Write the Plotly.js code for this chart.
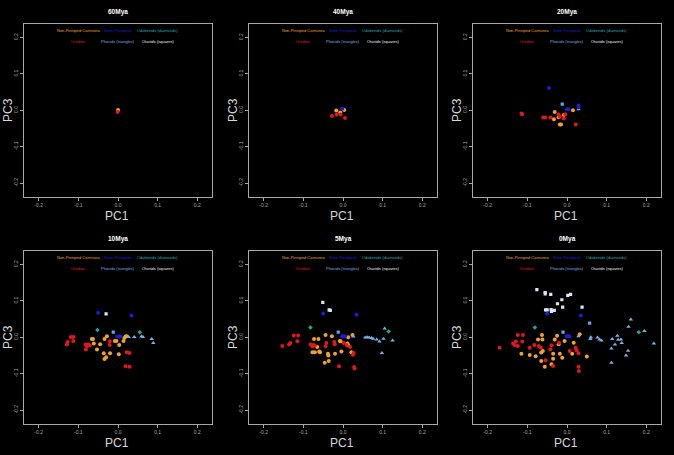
<!DOCTYPE html>
<html><head><meta charset="utf-8">
<script src="https://cdn.plot.ly/plotly-3.0.1.min.js"></script>
<style>html,body{margin:0;padding:0;background:#000;}#c{width:674px;height:455px;}</style>
</head><body><div id="c"></div>
<script>
// ---- Data (PC1, PC3) ----
const ages = ['60Mya','40Mya','20Mya','10Mya','5Mya','0Mya'];
const legendLabels = ['Non-Pinniped Carnivora','Stem Pinnipeds','Odobenids (diamonds)','Ursidae','Phocids (triangles)','Otariids (squares)'];
const tickVals = [-0.2,-0.1,0,0.1,0.2];
const tickText = ['-0.2','-0.1','0.0','0.1','0.2'];

// 60Mya
const npcX_60 = [0.000], npcY_60 = [0.001];
const ursX_60 = [-0.001], ursY_60 = [-0.005];

// 40Mya
const npcX_40 = [-0.017,-0.007,0.003], npcY_40 = [-0.001,-0.006,0.001];
const ursX_40 = [-0.028,-0.016,-0.006,0.005], ursY_40 = [-0.016,-0.012,-0.012,-0.021];
const stemX_40 = [-0.002], stemY_40 = [0.004];

// 20Mya
const npcX_20 = [0.015,-0.031,-0.033,-0.021,-0.018,-0.015,-0.008];
const npcY_20 = [0.000,-0.005,-0.025,-0.019,-0.039,-0.039,-0.013];
const ursX_20 = [-0.115,-0.113,-0.060,-0.055,-0.042,-0.021,-0.018,-0.004,-0.008,0.022];
const ursY_20 = [-0.009,-0.011,-0.020,-0.020,-0.020,-0.012,-0.018,-0.011,-0.023,-0.039];
const stemX_20 = [-0.045,0.000,0.004,0.029,0.029], stemY_20 = [0.061,0.003,0.003,0.013,0.008];
const lbX_20 = [-0.012], lbY_20 = [0.017];
const phocX_20 = [0.029], phocY_20 = [0.003];

// 10Mya
const npcX_10 = [0.019,0.022,0.016,0.014,-0.028,-0.034,-0.045,-0.053,-0.063,-0.066,-0.061,-0.008,-0.004,0.003,0.002,-0.036,-0.020,-0.030,-0.034];
const npcY_10 = [0.002,0.003,-0.002,-0.010,0.003,-0.005,-0.019,-0.034,-0.005,-0.005,-0.017,-0.010,-0.010,-0.021,-0.047,-0.044,-0.044,-0.055,-0.060];
const ursX_10 = [-0.119,-0.112,-0.113,-0.127,-0.129,-0.082,-0.075,-0.078,-0.071,-0.081,-0.021,-0.021,0.022,0.029,0.019,0.029];
const ursY_10 = [0.001,0.001,-0.010,-0.013,-0.020,-0.020,-0.020,-0.025,-0.022,-0.034,-0.011,-0.021,-0.041,-0.043,-0.080,-0.081];
const stemX_10 = [-0.050,0.034,-0.002,0.003,0.006], stemY_10 = [0.067,0.060,0.002,0.002,0.002];
const odoX_10 = [-0.052,0.055], odoY_10 = [0.020,0.014];
const lbX_10 = [-0.012], lbY_10 = [0.014];
const phocX_10 = [0.027,0.041,0.059,0.063,0.085,0.089], phocY_10 = [0.001,0.001,0.002,0.001,-0.005,-0.016];
const otaX_10 = [-0.030], otaY_10 = [0.064];

// 5Mya
const npcX_5 = [-0.044,-0.028,0.024,0.013,-0.073,-0.062,-0.008,-0.006,0.011,0.013,-0.004,-0.020,-0.038,-0.037,-0.036,-0.046,-0.065,-0.060,-0.077,-0.071,-0.058,0.021];
const npcY_5 = [0.006,0.003,0.006,0.000,-0.005,-0.005,-0.010,-0.011,-0.017,-0.022,-0.039,-0.045,-0.045,-0.050,-0.065,-0.070,-0.027,-0.039,-0.041,-0.041,-0.041,-0.041];
const ursX_5 = [-0.124,-0.113,-0.115,-0.133,-0.136,-0.153,-0.082,-0.075,-0.071,-0.077,-0.042,-0.044,-0.021,-0.022,0.002,0.009,0.018,0.027,0.025,-0.010,0.028,0.029];
const ursY_5 = [0.005,0.005,-0.011,-0.016,-0.020,-0.024,-0.020,-0.021,-0.023,-0.025,-0.016,-0.025,-0.019,-0.013,-0.016,-0.021,-0.027,-0.043,-0.048,-0.080,-0.082,-0.086];
const stemX_5 = [-0.050,0.034,-0.002,0.002,0.005], stemY_5 = [0.065,0.062,0.003,0.003,0.002];
const odoX_5 = [-0.082,0.115], odoY_5 = [0.027,0.016];
const lbX_5 = [-0.012], lbY_5 = [0.014];
const phocX_5 = [0.026,0.056,0.061,0.066,0.072,0.076,0.085,0.092,0.102,0.105,0.125,0.098];
const phocY_5 = [0.002,-0.001,0.000,-0.001,-0.002,-0.004,-0.006,-0.012,-0.004,0.024,-0.009,-0.043];
const otaX_5 = [-0.051,-0.035,-0.032], otaY_5 = [0.096,0.075,0.074];

// 0Mya
const npcX_0 = [-0.063,-0.073,-0.062,-0.031,-0.025,-0.006,0.017,0.032,-0.061,-0.065,-0.079,-0.094,-0.115,-0.035,-0.018,-0.012,-0.035,-0.065,-0.056,-0.039,0.050,0.013,-0.021];
const npcY_0 = [0.006,-0.006,-0.006,-0.006,0.004,-0.010,-0.015,0.008,-0.038,-0.042,-0.052,-0.049,-0.045,-0.045,-0.045,-0.056,-0.059,-0.065,-0.081,-0.074,-0.053,-0.045,-0.019];
const ursX_0 = [-0.170,-0.124,-0.111,-0.129,-0.136,-0.132,-0.124,-0.113,-0.094,-0.082,-0.071,-0.066,-0.039,-0.042,-0.020,0.007,0.022,0.024,0.029,-0.054,-0.035,0.029,0.030];
const ursY_0 = [-0.029,0.006,0.006,-0.012,-0.017,-0.021,-0.024,-0.012,-0.029,-0.021,-0.024,-0.029,-0.022,-0.033,-0.015,-0.038,-0.029,-0.036,-0.044,-0.063,-0.079,-0.081,-0.093];
const stemX_0 = [-0.050,0.035,-0.001,0.003,0.006], stemY_0 = [0.065,0.060,0.003,0.003,0.003];
const odoX_0 = [-0.081,0.181], odoY_0 = [0.027,0.014];
const lbX_0 = [-0.010,0.057], lbY_0 = [0.014,0.039];
const phocX_0 = [0.029,0.060,0.059,0.077,0.082,0.087,0.114,0.127,0.129,0.136,0.138,0.121,0.112,0.155,0.161,0.195,0.219,0.154,0.149,0.112];
const phocY_0 = [0.003,0.000,-0.005,-0.001,-0.006,-0.009,-0.005,0.004,-0.007,-0.006,-0.016,-0.020,-0.031,0.029,0.049,0.017,-0.017,-0.037,-0.050,-0.070];
const otaX_0 = [-0.076,-0.055,-0.055,-0.041,-0.013,0.002,0.009,-0.024,-0.011,0.038,-0.054,-0.050,-0.040,-0.032,-0.039];
const otaY_0 = [0.131,0.123,0.119,0.118,0.103,0.115,0.118,0.092,0.083,0.083,0.075,0.075,0.076,0.074,0.071];

// ---- Assemble ----
const panelData = [
  {npc:[npcX_60,npcY_60], urs:[ursX_60,ursY_60]},
  {npc:[npcX_40,npcY_40], urs:[ursX_40,ursY_40], stem:[stemX_40,stemY_40]},
  {npc:[npcX_20,npcY_20], urs:[ursX_20,ursY_20], stem:[stemX_20,stemY_20], lb:[lbX_20,lbY_20], phoc:[phocX_20,phocY_20]},
  {npc:[npcX_10,npcY_10], urs:[ursX_10,ursY_10], stem:[stemX_10,stemY_10], odo:[odoX_10,odoY_10], lb:[lbX_10,lbY_10], phoc:[phocX_10,phocY_10], ota:[otaX_10,otaY_10]},
  {npc:[npcX_5,npcY_5], urs:[ursX_5,ursY_5], stem:[stemX_5,stemY_5], odo:[odoX_5,odoY_5], lb:[lbX_5,lbY_5], phoc:[phocX_5,phocY_5], ota:[otaX_5,otaY_5]},
  {npc:[npcX_0,npcY_0], urs:[ursX_0,ursY_0], stem:[stemX_0,stemY_0], odo:[odoX_0,odoY_0], lb:[lbX_0,lbY_0], phoc:[phocX_0,phocY_0], ota:[otaX_0,otaY_0]}
];
const styles = {
  npc:{color:'#f0a22e', symbol:'circle', size:4},
  urs:{color:'#e0181a', symbol:'circle', size:4},
  stem:{color:'#1c1cd6', symbol:'circle', size:4},
  odo:{color:'#1aa99a', symbol:'diamond', size:3.5},
  lb:{color:'#5aa8ea', symbol:'square', size:3.2},
  phoc:{color:'#74b2e6', symbol:'triangle-up', size:4},
  ota:{color:'#dce5f4', symbol:'square', size:3.2}
};
const order = ['npc','urs','odo','lb','phoc','ota','stem'];
const legendColors = ['#f0a22e','#1c1cd6','#1ab3b3','#e0181a','#74b2e6','#e8eef8'];

const W = 674, H = 455;
const colOff = [0,225,449], rowOff = [0,227];
const boxL = 24, boxR = 212, boxT = 24, boxB = 196.5;

const traces = [];
const layout = {
  width:W, height:H, paper_bgcolor:'#000', plot_bgcolor:'#000',
  margin:{l:0,r:0,t:0,b:0}, showlegend:false,
  font:{family:'Liberation Sans, Arial, sans-serif', color:'#bbbbbb'},
  annotations:[]
};
const fontF = 'Liberation Sans, Arial, sans-serif';

panelData.forEach((pd, i) => {
  const r = Math.floor(i/3), c = i%3, n = i+1;
  const xa = n===1 ? 'x' : 'x'+n, ya = n===1 ? 'y' : 'y'+n;
  const L = colOff[c]+boxL, R = colOff[c]+boxR, T = rowOff[r]+boxT, B = rowOff[r]+boxB;
  const axBase = {range:[-0.237,0.237], showline:true, mirror:true, linecolor:'#a8a8a8', linewidth:1,
    ticks:'outside', ticklen:3, tickcolor:'#a8a8a8', tickvals:tickVals, ticktext:tickText,
    tickfont:{size:5, color:'#a8a8a8', family:fontF}, showgrid:false, zeroline:false, fixedrange:true};
  layout['xaxis'+(n===1?'':n)] = Object.assign({}, axBase, {domain:[L/W, R/W], anchor:ya});
  layout['yaxis'+(n===1?'':n)] = Object.assign({}, axBase, {domain:[1-B/H, 1-T/H], anchor:xa, tickangle:-90});
  order.forEach(k => {
    if (!pd[k]) return;
    const s = styles[k];
    traces.push({type:'scatter', mode:'markers', x:pd[k][0], y:pd[k][1], xaxis:xa, yaxis:ya,
      marker:{color:s.color, symbol:s.symbol, size:s.size, line:{width:0}}, hoverinfo:'skip'});
  });
  // title
  layout.annotations.push({text:'<b>'+ages[i]+'</b>', xref:'paper', yref:'paper', x:(colOff[c]+118)/W, y:1-(rowOff[r]+12)/H,
    showarrow:false, xanchor:'center', yanchor:'middle', font:{size:6.5, color:'#ffffff', family:fontF}});
  // axis titles
  layout.annotations.push({text:'PC1', xref:'paper', yref:'paper', x:(colOff[c]+117)/W, y:1-(rowOff[r]+216)/H,
    showarrow:false, xanchor:'center', yanchor:'middle', font:{size:12, color:'#d8d8d8', family:fontF}});
  layout.annotations.push({text:'PC3', xref:'paper', yref:'paper', x:(colOff[c]+8)/W, y:1-(rowOff[r]+110)/H,
    showarrow:false, xanchor:'center', yanchor:'middle', textangle:-90, font:{size:12, color:'#d8d8d8', family:fontF}});
  // legend text
  const lx = [78.5,118,157.5], ly = [30.3,41.7];
  legendLabels.forEach((lab, j) => {
    layout.annotations.push({text:lab, xref:'paper', yref:'paper', x:(colOff[c]+lx[j%3])/W, y:1-(rowOff[r]+ly[Math.floor(j/3)])/H,
      showarrow:false, xanchor:'center', yanchor:'middle', font:{size:4, color:legendColors[j], family:fontF}});
  });
});

Plotly.newPlot('c', traces, layout, {staticPlot:true, displayModeBar:false});
</script></body></html>
